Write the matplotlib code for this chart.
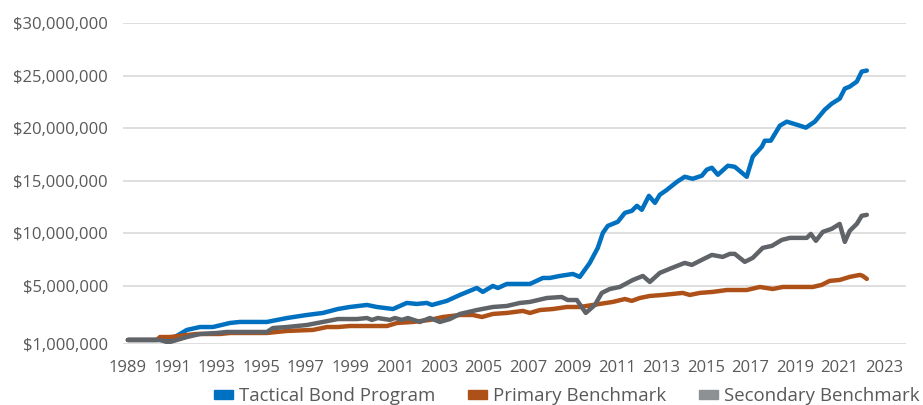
import numpy as np
import matplotlib.pyplot as plt
from matplotlib.patches import Patch
from matplotlib.ticker import FuncFormatter

plt.rcParams['font.family'] = ['Open Sans', 'DejaVu Sans']

# values, in millions of dollars
tactical_years = [1989.0, 1990.66, 1990.89, 1991.65, 1992.24, 1992.82, 1993.59, 1994.04, 1995.25, 1996.15,
                  1997.05, 1997.77, 1998.44, 1998.98, 1999.75, 2000.20, 2000.92, 2001.54, 2001.99, 2002.44,
                  2002.67, 2003.34, 2003.93, 2004.69, 2004.96, 2005.41, 2005.64, 2006.04, 2007.08, 2007.66,
                  2007.97, 2008.42, 2009.01, 2009.32, 2009.77, 2010.13, 2010.36, 2010.58, 2011.03, 2011.35,
                  2011.66, 2011.89, 2012.11, 2012.43, 2012.70, 2012.92, 2013.24, 2013.69, 2014.04, 2014.40,
                  2014.81, 2015.03, 2015.26, 2015.53, 2015.98, 2016.29, 2016.83, 2017.10, 2017.51, 2017.64,
                  2017.91, 2018.32, 2018.63, 2019.08, 2019.49, 2019.89, 2020.34, 2020.65, 2021.01, 2021.24,
                  2021.46, 2021.78, 2022.00, 2022.23]
tactical_values = [1.28, 1.28, 1.28, 1.97, 2.17, 2.17, 2.45, 2.52, 2.52, 2.79,
                   3.00, 3.14, 3.41, 3.55, 3.69, 3.55, 3.41, 3.83, 3.76, 3.83,
                   3.69, 3.97, 4.38, 4.86, 4.59, 5.00, 4.86, 5.19, 5.19, 5.76,
                   5.76, 5.95, 6.14, 5.86, 7.19, 8.62, 10.05, 10.71, 11.10, 11.95,
                   12.14, 12.62, 12.24, 13.57, 12.90, 13.67, 14.14, 14.90, 15.38, 15.19,
                   15.48, 16.05, 16.24, 15.57, 16.43, 16.33, 15.38, 17.29, 18.24, 18.81,
                   18.81, 20.24, 20.62, 20.33, 20.05, 20.62, 21.76, 22.33, 22.81, 23.76,
                   23.95, 24.43, 25.38, 25.48]

primary_years = [1989.0, 1990.30, 1990.44, 1990.89, 1991.65, 1992.10, 1993.14, 1993.59, 1995.25, 1995.70,
                 1996.15, 1997.32, 1997.95, 1998.44, 1998.98, 2000.65, 2001.10, 2001.81, 2002.58, 2003.16,
                 2003.93, 2004.51, 2004.92, 2005.41, 2006.04, 2006.76, 2007.08, 2007.53, 2008.11, 2008.74,
                 2009.32, 2009.91, 2010.81, 2011.35, 2011.66, 2012.02, 2012.47, 2013.05, 2013.95, 2014.27,
                 2014.72, 2015.30, 2015.94, 2016.83, 2017.42, 2018.00, 2018.45, 2019.80, 2020.20, 2020.56,
                 2021.01, 2021.46, 2021.92, 2022.05, 2022.23]
primary_values = [1.28, 1.28, 1.48, 1.48, 1.62, 1.69, 1.69, 1.76, 1.76, 1.83,
                  1.90, 1.97, 2.17, 2.17, 2.24, 2.24, 2.45, 2.52, 2.66, 2.86,
                  3.00, 3.00, 2.86, 3.07, 3.14, 3.28, 3.14, 3.34, 3.41, 3.55,
                  3.55, 3.69, 3.90, 4.10, 3.97, 4.17, 4.31, 4.38, 4.52, 4.38,
                  4.52, 4.59, 4.72, 4.72, 4.93, 4.79, 4.93, 4.93, 5.10, 5.48,
                  5.57, 5.86, 6.05, 5.95, 5.67]

secondary_years = [1989.0, 1990.44, 1990.75, 1990.89, 1991.65, 1992.24, 1993.00, 1993.45, 1995.25, 1995.52,
                   1996.15, 1997.05, 1997.77, 1998.44, 1999.30, 1999.75, 1999.97, 2000.24, 2000.78, 2001.01,
                   2001.32, 2001.59, 2002.13, 2002.58, 2003.03, 2003.48, 2003.93, 2004.69, 2005.41, 2006.04,
                   2006.63, 2007.08, 2007.84, 2008.51, 2008.78, 2009.19, 2009.59, 2010.00, 2010.31, 2010.67,
                   2011.12, 2011.71, 2012.16, 2012.47, 2012.92, 2013.46, 2014.04, 2014.36, 2014.81, 2015.26,
                   2015.75, 2016.07, 2016.29, 2016.74, 2017.10, 2017.55, 2017.96, 2018.41, 2018.77, 2019.53,
                   2019.71, 2019.94, 2020.25, 2020.65, 2021.01, 2021.24, 2021.46, 2021.78, 2022.00, 2022.23]
secondary_values = [1.28, 1.28, 1.14, 1.14, 1.48, 1.69, 1.76, 1.83, 1.83, 2.10,
                    2.17, 2.31, 2.52, 2.72, 2.72, 2.79, 2.66, 2.79, 2.66, 2.79,
                    2.66, 2.79, 2.52, 2.79, 2.52, 2.72, 3.07, 3.34, 3.55, 3.62,
                    3.83, 3.90, 4.17, 4.24, 4.03, 4.03, 3.14, 3.69, 4.52, 4.79,
                    4.93, 5.57, 5.95, 5.38, 6.24, 6.71, 7.19, 7.00, 7.48, 7.95,
                    7.76, 8.05, 8.05, 7.29, 7.67, 8.62, 8.81, 9.38, 9.57, 9.57,
                    9.95, 9.29, 10.14, 10.43, 10.90, 9.19, 10.24, 10.90, 11.67, 11.76]

series_names = ['Tactical Bond Program', 'Primary Benchmark', 'Secondary Benchmark']
series_colors = ['#0070C0', '#AE5119', '#606367']
legend_colors = ['#0070C0', '#AE5119', '#8E9194']
y_ticks = [1e6, 5e6, 10e6, 15e6, 20e6, 25e6, 30e6]
x_ticks = list(range(1989, 2024, 2))


# the value axis is stretched below $5M (the first step is 1M -> 5M)
def fwd(v):
    v = np.asarray(v, dtype=float)
    return np.where(v >= 5e6, v, 5e6 - (5e6 - v) * 1.38)


def inv(u):
    u = np.asarray(u, dtype=float)
    return np.where(u >= 5e6, u, 5e6 - (5e6 - u) / 1.38)


fig = plt.figure(figsize=(9.23, 4.05), dpi=100)
ax = fig.add_axes([0.1333, 0.1506, 0.848, 0.7926])

data = [(tactical_years, tactical_values),
        (primary_years, primary_values),
        (secondary_years, secondary_values)]
for (yrs, vals), name, col in zip(data, series_names, series_colors):
    ax.plot(yrs, np.array(vals) * 1e6, color=col, lw=3.2, label=name,
            solid_joinstyle='round', solid_capstyle='round')

ax.set_yscale('function', functions=(fwd, inv))
ax.set_ylim(1e6, 30e6)
ax.set_xlim(1988.78, 2023.98)
ax.set_yticks(y_ticks)
ax.yaxis.set_major_formatter(FuncFormatter(lambda v, p: '${:,.0f}'.format(v)))
ax.set_xticks(x_ticks)
ax.minorticks_off()

ax.grid(axis='y', color='#D9D9D9', lw=1.2)
ax.set_axisbelow(True)
for s in ax.spines.values():
    s.set_visible(False)
ax.tick_params(axis='y', length=0, pad=11, labelsize=12, labelcolor='#595959')
ax.tick_params(axis='x', length=0, pad=11.5, labelsize=12, labelcolor='#595959')

handles = [Patch(color=c, label=n) for c, n in zip(legend_colors, series_names)]
fig.legend(handles=handles, loc='center', bbox_to_anchor=(0.614, 0.022), ncol=3, frameon=False,
           fontsize=13.4, handlelength=1.05, handleheight=0.42, handletextpad=0.3, columnspacing=1.75,
           labelcolor='#595959')

fig.savefig('out.png', dpi=100)
